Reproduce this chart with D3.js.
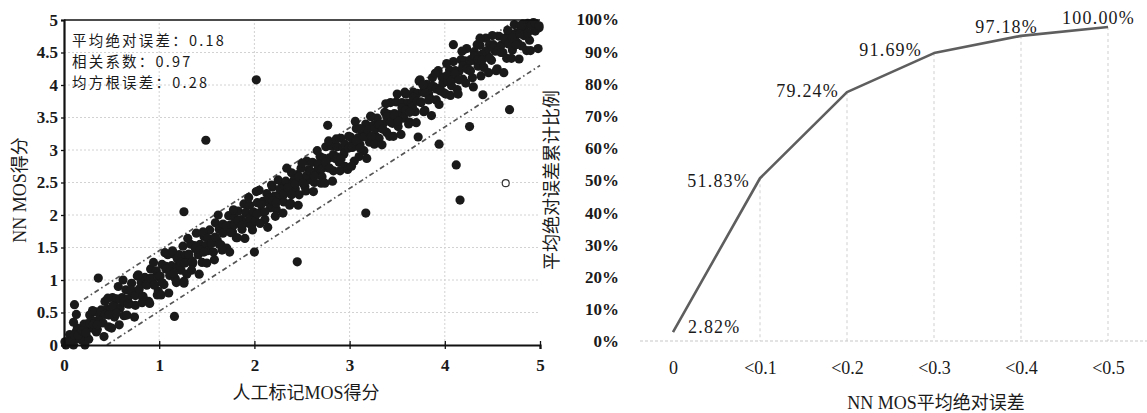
<!DOCTYPE html>
<html><head><meta charset="utf-8">
<script src="https://cdn.jsdelivr.net/npm/d3@7/dist/d3.min.js"></script>
<style>
body{margin:0;background:#fff}
text{fill:#1a1a1a}
</style>
</head><body>
<svg id="c" width="1147" height="413"></svg>
<script>
// ---------- Left chart data ----------
const scatterTicksX = [0, 1, 2, 3, 4, 5];
const scatterTicksY = [0, 0.5, 1, 1.5, 2, 2.5, 3, 3.5, 4, 4.5, 5];
const scatterTickLabelsY = ["0", "0.5", "1", "1.5", "2", "2.5", "3", "3.5", "4", "4.5", "5"];
// [人工标记MOS, NN MOS] pairs read (estimated) from the cloud
const scatterBand0 = [
 [0.01,0.05],[0.03,0.04],[0.05,0.03],[0.07,0.15],[0.09,0.13],[0.11,0.09],[0.13,0.21],[0.15,0.10],[0.17,0.17],[0.19,0.21],
 [0.21,0.32],[0.23,0.16],[0.25,0.33],[0.27,0.46],[0.29,0.26],[0.31,0.37],[0.33,0.51],[0.35,0.24],[0.37,0.39],[0.39,0.54],
 [0.41,0.34],[0.43,0.67],[0.45,0.55],[0.47,0.28],[0.49,0.55],[0.51,0.73],[0.53,0.43],[0.55,0.71],[0.57,0.90],[0.59,0.57],
 [0.61,0.73],[0.63,0.45],[0.65,0.85],[0.67,0.71],[0.69,0.63],[0.71,0.95],[0.73,0.81],[0.75,0.61],[0.77,1.06],[0.79,0.79],
 [0.81,0.96],[0.83,0.72],[0.85,1.04],[0.87,0.94],[0.89,0.67],[0.91,1.17],[0.93,1.03],[0.95,0.92],[0.97,1.14],[0.99,0.83],
 [0.02,0.0],[0.06,0.16],[0.10,0.0],[0.14,0.26],[0.18,0.08],[0.22,0.22],[0.26,0.09],[0.30,0.53],[0.34,0.20],[0.38,0.46],
 [0.42,0.13],[0.46,0.72],[0.50,0.26],[0.54,0.59],[0.58,0.31],[0.62,1.00],[0.66,0.46],[0.70,0.83],[0.74,0.43],[0.78,1.08],
 [0.82,0.65],[0.86,0.93],[0.90,0.64],[0.94,1.27],[0.98,0.77],
 [0.03,0.05],[0.07,0.06],[0.11,0.15],[0.15,0.15],[0.19,0.22],[0.23,0.19],[0.27,0.33],[0.31,0.32],[0.35,0.31],[0.39,0.51],
 [0.43,0.47],[0.47,0.46],[0.51,0.60],[0.55,0.49],[0.59,0.70],[0.63,0.66],[0.67,0.63],[0.71,0.84],[0.75,0.76],[0.79,0.86],
 [0.83,0.75],[0.87,0.92],[0.91,1.03],[0.95,0.93],[0.99,1.05]
];
const scatterBand1 = [
 [1.01,1.06],[1.03,1.24],[1.05,0.93],[1.07,1.21],[1.09,1.39],[1.11,1.07],[1.13,1.22],[1.15,1.40],[1.17,1.02],[1.19,1.21],
 [1.21,1.39],[1.23,1.15],[1.25,1.52],[1.27,1.38],[1.29,1.09],[1.31,1.37],[1.33,1.55],[1.35,1.25],[1.37,1.53],[1.39,1.72],
 [1.41,1.39],[1.43,1.55],[1.45,1.27],[1.47,1.67],[1.49,1.53],[1.51,1.45],[1.53,1.77],[1.55,1.63],[1.57,1.43],[1.59,1.88],
 [1.61,1.61],[1.63,1.78],[1.65,1.54],[1.67,1.86],[1.69,1.76],[1.71,1.49],[1.73,1.99],[1.75,1.85],[1.77,1.74],[1.79,1.96],
 [1.81,1.65],[1.83,2.06],[1.85,1.88],[1.87,1.78],[1.89,2.17],[1.91,2.04],[1.93,1.88],[1.95,2.15],[1.97,1.84],[1.99,2.00],
 [1.02,0.77],[1.06,1.42],[1.10,0.80],[1.14,1.45],[1.18,0.96],[1.22,1.22],[1.26,0.98],[1.30,1.64],[1.34,1.15],[1.38,1.48],
 [1.42,1.09],[1.46,1.74],[1.50,1.26],[1.54,1.59],[1.58,1.31],[1.62,2.00],[1.66,1.46],[1.70,1.83],[1.74,1.43],[1.78,2.08],
 [1.82,1.65],[1.86,1.93],[1.90,1.64],[1.94,2.27],[1.98,1.77],
 [1.03,0.96],[1.07,1.17],[1.11,1.13],[1.15,1.10],[1.19,1.33],[1.23,1.27],[1.27,1.26],[1.31,1.40],[1.35,1.29],[1.39,1.50],
 [1.43,1.46],[1.47,1.43],[1.51,1.64],[1.55,1.56],[1.59,1.66],[1.63,1.55],[1.67,1.72],[1.71,1.83],[1.75,1.73],[1.79,1.85],
 [1.83,1.91],[1.87,1.84],[1.91,2.03],[1.95,1.95],[1.99,2.05]
];
const scatterBand2 = [
 [2.01,1.91],[2.03,2.19],[2.05,2.38],[2.07,2.05],[2.09,2.21],[2.11,1.93],[2.13,2.33],[2.15,2.19],[2.17,2.11],[2.19,2.43],
 [2.21,2.29],[2.23,2.09],[2.25,2.54],[2.27,2.27],[2.29,2.44],[2.31,2.20],[2.33,2.52],[2.35,2.42],[2.37,2.15],[2.39,2.65],
 [2.41,2.51],[2.43,2.40],[2.45,2.62],[2.47,2.31],[2.49,2.72],[2.51,2.54],[2.53,2.44],[2.55,2.83],[2.57,2.70],[2.59,2.54],
 [2.61,2.81],[2.63,2.50],[2.65,2.66],[2.67,2.72],[2.69,2.90],[2.71,2.59],[2.73,2.87],[2.75,3.05],[2.77,2.73],[2.79,2.88],
 [2.81,3.06],[2.83,2.68],[2.85,2.87],[2.87,3.05],[2.89,2.81],[2.91,3.18],[2.93,3.04],[2.95,2.75],[2.97,3.03],[2.99,3.21],
 [2.02,2.36],[2.06,1.87],[2.10,2.20],[2.14,1.81],[2.18,2.46],[2.22,1.98],[2.26,2.31],[2.30,2.03],[2.34,2.72],[2.38,2.18],
 [2.42,2.55],[2.46,2.15],[2.50,2.80],[2.54,2.37],[2.58,2.65],[2.62,2.36],[2.66,2.99],[2.70,2.49],[2.74,2.49],[2.78,3.14],
 [2.82,2.52],[2.86,3.17],[2.90,2.68],[2.94,2.94],[2.98,2.70],
 [2.03,2.02],[2.07,2.16],[2.11,2.05],[2.15,2.26],[2.19,2.22],[2.23,2.19],[2.27,2.40],[2.31,2.32],[2.35,2.42],[2.39,2.31],
 [2.43,2.48],[2.47,2.59],[2.51,2.49],[2.55,2.61],[2.59,2.67],[2.63,2.60],[2.67,2.79],[2.71,2.71],[2.75,2.81],[2.79,2.72],
 [2.83,2.93],[2.87,2.89],[2.91,2.86],[2.95,3.09],[2.99,3.03]
];
const scatterBand3 = [
 [3.01,3.20],[3.03,3.10],[3.05,2.83],[3.07,3.33],[3.09,3.19],[3.11,3.08],[3.13,3.30],[3.15,2.99],[3.17,3.40],[3.19,3.22],
 [3.21,3.12],[3.23,3.51],[3.25,3.38],[3.27,3.22],[3.29,3.49],[3.31,3.18],[3.33,3.34],[3.35,3.40],[3.37,3.58],[3.39,3.27],
 [3.41,3.55],[3.43,3.73],[3.45,3.41],[3.47,3.56],[3.49,3.74],[3.51,3.36],[3.53,3.55],[3.55,3.73],[3.57,3.49],[3.59,3.86],
 [3.61,3.72],[3.63,3.43],[3.65,3.71],[3.67,3.89],[3.69,3.59],[3.71,3.87],[3.73,4.06],[3.75,3.73],[3.77,3.89],[3.79,3.61],
 [3.81,4.01],[3.83,3.87],[3.85,3.79],[3.87,4.11],[3.89,3.97],[3.91,3.77],[3.93,4.22],[3.95,3.95],[3.97,4.12],[3.99,3.88],
 [3.02,2.75],[3.06,3.44],[3.10,2.90],[3.14,3.27],[3.18,2.87],[3.22,3.52],[3.26,3.09],[3.30,3.37],[3.34,3.08],[3.38,3.71],
 [3.42,3.21],[3.46,3.21],[3.50,3.86],[3.54,3.24],[3.58,3.89],[3.62,3.40],[3.66,3.66],[3.70,3.42],[3.74,4.08],[3.78,3.59],
 [3.82,3.92],[3.86,3.53],[3.90,4.18],[3.94,3.70],[3.98,4.03],
 [3.03,3.04],[3.07,3.14],[3.11,3.03],[3.15,3.20],[3.19,3.31],[3.23,3.21],[3.27,3.33],[3.31,3.39],[3.35,3.32],[3.39,3.51],
 [3.43,3.43],[3.47,3.53],[3.51,3.44],[3.55,3.65],[3.59,3.61],[3.63,3.58],[3.67,3.81],[3.71,3.75],[3.75,3.74],[3.79,3.88],
 [3.83,3.77],[3.87,3.98],[3.91,3.94],[3.95,3.91],[3.99,4.12]
];
const scatterBand4 = [
 [4.01,3.86],[4.03,4.05],[4.05,4.23],[4.07,3.99],[4.09,4.36],[4.11,4.22],[4.13,3.93],[4.15,4.21],[4.17,4.39],[4.19,4.09],
 [4.21,4.37],[4.23,4.56],[4.25,4.23],[4.27,4.39],[4.29,4.11],[4.31,4.51],[4.33,4.37],[4.35,4.29],[4.37,4.61],[4.39,4.47],
 [4.41,4.27],[4.43,4.72],[4.45,4.45],[4.47,4.62],[4.49,4.38],[4.51,4.62],[4.53,4.52],[4.55,4.25],[4.57,4.75],[4.59,4.61],
 [4.61,4.50],[4.63,4.72],[4.65,4.41],[4.67,4.82],[4.69,4.64],[4.71,4.54],[4.73,4.93],[4.75,4.80],[4.77,4.64],[4.79,4.91],
 [4.81,4.60],[4.83,4.76],[4.85,4.82],[4.87,4.95],[4.89,4.69],[4.91,4.93],[4.93,4.96],[4.95,4.83],[4.97,4.90],[4.99,4.88],
 [4.02,4.33],[4.06,3.84],[4.10,4.10],[4.14,3.86],[4.18,4.52],[4.22,4.03],[4.26,4.36],[4.30,3.97],[4.34,4.62],[4.38,4.14],
 [4.42,4.47],[4.46,4.19],[4.50,4.76],[4.54,4.22],[4.58,4.59],[4.62,4.19],[4.66,4.84],[4.70,4.41],[4.74,4.69],[4.78,4.40],
 [4.82,4.94],[4.86,4.53],[4.90,4.53],[4.94,4.88],[4.98,4.56],
 [4.03,4.15],[4.07,4.07],[4.11,4.17],[4.15,4.08],[4.19,4.29],[4.23,4.25],[4.27,4.22],[4.31,4.45],[4.35,4.39],[4.39,4.38],
 [4.43,4.52],[4.47,4.41],[4.51,4.57],[4.55,4.53],[4.59,4.50],[4.63,4.71],[4.67,4.63],[4.71,4.73],[4.75,4.62],[4.79,4.79],
 [4.83,4.90],[4.87,4.80],[4.91,4.92],[4.95,4.95],[4.99,4.91]
];
const scatterOutliers = [
 [0.11,0.62],[0.13,0.47],[0.10,0.35],[0.36,1.03],[0.22,0.0],[1.16,0.44],[1.26,2.05],[1.49,3.15],[1.26,0.95],[2.00,1.43],
 [2.02,4.08],[2.45,1.28],[2.77,3.38],[3.17,2.03],[3.11,3.33],[3.72,3.20],[3.77,4.00],[3.94,3.09],[4.12,2.77],[4.16,2.23],
 [4.26,3.36],[4.09,4.62],[4.40,3.85],[4.37,4.72],[4.68,3.62],[4.81,4.92]
];
const hollowPoints = [[4.64, 2.49]];
const bandUpper = [[0.1, 0.6], [4.7, 4.95]];
const bandLower = [[0.45, 0.0], [5.0, 4.3]];
const statsLines = ["平均绝对误差：0.18", "相关系数：0.97", "均方根误差：0.28"];

// ---------- Right chart data ----------
const errCategories = ["0", "<0.1", "<0.2", "<0.3", "<0.4", "<0.5"];
const cumPercent = [2.82, 51.83, 79.24, 91.69, 97.18, 100.00];
const cumLabels = ["2.82%", "51.83%", "79.24%", "91.69%", "97.18%", "100.00%"];
const percentTicks = [0, 10, 20, 30, 40, 50, 60, 70, 80, 90, 100];

// ---------- Drawing ----------
const svg = d3.select("#c");
const serif = "'Liberation Serif','DejaVu Serif',serif";
const mixed = "'Liberation Serif','Noto Sans CJK SC',serif";
const cjk = "'Noto Sans CJK SC','Liberation Serif',sans-serif";

// Left chart scales
const x1 = d3.scaleLinear().domain([0, 5]).range([64, 540]);
const y1 = d3.scaleLinear().domain([0, 5]).range([345, 20]);
const L = svg.append("g");

// grid
L.append("g").selectAll("line").data(scatterTicksX.slice(1, -1)).join("line")
  .attr("x1", d => x1(d)).attr("x2", d => x1(d)).attr("y1", y1(0)).attr("y2", y1(5))
  .attr("stroke", "#d2d2d2").attr("stroke-width", 1).attr("stroke-dasharray", "2,2");
L.append("g").selectAll("line").data(scatterTicksY.slice(1, -1)).join("line")
  .attr("x1", x1(0)).attr("x2", x1(5)).attr("y1", d => y1(d)).attr("y2", d => y1(d))
  .attr("stroke", "#d2d2d2").attr("stroke-width", 1).attr("stroke-dasharray", "2,2");

// band lines
const bandLine = d3.line().x(d => x1(d[0])).y(d => y1(d[1]));
[bandUpper, bandLower].forEach(b => {
  L.append("path").attr("d", bandLine(b)).attr("fill", "none")
    .attr("stroke", "#555").attr("stroke-width", 1.7).attr("stroke-dasharray", "5,3,1.5,3");
});

// points
const allPoints = [].concat(scatterBand0, scatterBand1, scatterBand2, scatterBand3, scatterBand4, scatterOutliers);
L.append("g").selectAll("circle").data(allPoints).join("circle")
  .attr("cx", d => x1(d[0])).attr("cy", d => y1(d[1])).attr("r", 4.6)
  .attr("fill", "#1a1a1a");
L.append("g").selectAll("circle").data(hollowPoints).join("circle")
  .attr("cx", d => x1(d[0])).attr("cy", d => y1(d[1])).attr("r", 3.5)
  .attr("fill", "#fff").attr("stroke", "#333").attr("stroke-width", 1.2);

// axes
const ax1 = L.append("g").attr("transform", `translate(0,${y1(0)})`)
  .call(d3.axisBottom(x1).tickValues(scatterTicksX).tickFormat(d3.format("d")).tickSize(4).tickPadding(10));
const ay1 = L.append("g").attr("transform", `translate(${x1(0)},0)`)
  .call(d3.axisLeft(y1).tickValues(scatterTicksY).tickFormat((d, i) => scatterTickLabelsY[i]).tickSize(3).tickPadding(3));
[ax1, ay1].forEach(a => {
  a.select(".domain").attr("stroke", "#111").attr("stroke-width", 2.2);
  a.selectAll(".tick line").attr("stroke", "#111").attr("stroke-width", 1.3);
  a.selectAll(".tick text").attr("font-family", serif).attr("font-size", 17)
    .attr("font-weight", "bold").attr("fill", "#222");
});
ax1.selectAll(".tick line").attr("y1", -4);
// top border
L.append("line").attr("x1", x1(0)).attr("x2", x1(5)).attr("y1", y1(5)).attr("y2", y1(5))
  .attr("stroke", "#111").attr("stroke-width", 1.6);

// stats annotation
L.append("g").selectAll("text").data(statsLines).join("text")
  .attr("x", 72).attr("y", (d, i) => 46 + i * 21)
  .attr("font-family", cjk).attr("font-size", 14.5).attr("letter-spacing", 2.2)
  .text(d => d);

// titles
L.append("text").attr("x", 306).attr("y", 399).attr("text-anchor", "middle")
  .attr("font-family", mixed).attr("font-size", 18).text("人工标记MOS得分");
L.append("text").attr("transform", "translate(26,190) rotate(-90)").attr("text-anchor", "middle")
  .attr("font-family", mixed).attr("font-size", 18).text("NN MOS得分");

// Right chart
const x2 = d3.scalePoint().domain(errCategories).range([673, 1108]);
const y2 = d3.scaleLinear().domain([0, 100]).range([341, 27]);
const R = svg.append("g");

// baseline (dotted)
R.append("line").attr("x1", 640).attr("x2", 1147).attr("y1", y2(0)).attr("y2", y2(0))
  .attr("stroke", "#c8c8c8").attr("stroke-width", 1.2).attr("stroke-dasharray", "3,2");
// drop lines
R.append("g").selectAll("line").data(errCategories.slice(1)).join("line")
  .attr("x1", d => x2(d)).attr("x2", d => x2(d))
  .attr("y1", (d, i) => y2(cumPercent[i + 1])).attr("y2", y2(0))
  .attr("stroke", "#cfcfcf").attr("stroke-width", 1).attr("stroke-dasharray", "3,3");

// line
const cumLine = d3.line().x((d, i) => x2(errCategories[i])).y(d => y2(d));
R.append("path").attr("d", cumLine(cumPercent)).attr("fill", "none")
  .attr("stroke", "#5e5e5e").attr("stroke-width", 2.6).attr("stroke-linejoin", "round");

// y tick labels
const ay2 = R.append("g").attr("transform", "translate(619,0)")
  .call(d3.axisLeft(y2).tickValues(percentTicks).tickFormat(d => d + "%").tickSize(0).tickPadding(0));
ay2.select(".domain").remove();
ay2.selectAll(".tick text").attr("font-family", serif).attr("font-size", 17)
  .attr("font-weight", "bold").attr("fill", "#222");
ay2.selectAll(".tick").attr("transform", (d) => `translate(0,${342 - d * 3.22})`);

// x tick labels
const ax2 = R.append("g").attr("transform", "translate(0,341)")
  .call(d3.axisBottom(x2).tickSize(0).tickPadding(20));
ax2.select(".domain").remove();
ax2.selectAll(".tick text").attr("font-family", serif).attr("font-size", 18).attr("fill", "#222");

// data labels
const labelOffsets = [[15, 1, "start"], [-10, 9, "end"], [-8, 5, "end"], [-12, 3, "end"], [17, -3, "end"], [27, -3, "end"]];
R.append("g").selectAll("text").data(cumLabels).join("text")
  .attr("x", (d, i) => x2(errCategories[i]) + labelOffsets[i][0])
  .attr("y", (d, i) => y2(cumPercent[i]) + labelOffsets[i][1])
  .attr("text-anchor", (d, i) => labelOffsets[i][2])
  .attr("font-family", serif).attr("font-size", 18).attr("letter-spacing", 1.2)
  .attr("fill", "#222").text(d => d);

// titles
R.append("text").attr("x", 936).attr("y", 409).attr("text-anchor", "middle")
  .attr("font-family", mixed).attr("font-size", 18).text("NN MOS平均绝对误差");
R.append("text").attr("transform", "translate(558,180) rotate(-90)").attr("text-anchor", "middle")
  .attr("font-family", cjk).attr("font-size", 18).text("平均绝对误差累计比例");
</script>
</body></html>
